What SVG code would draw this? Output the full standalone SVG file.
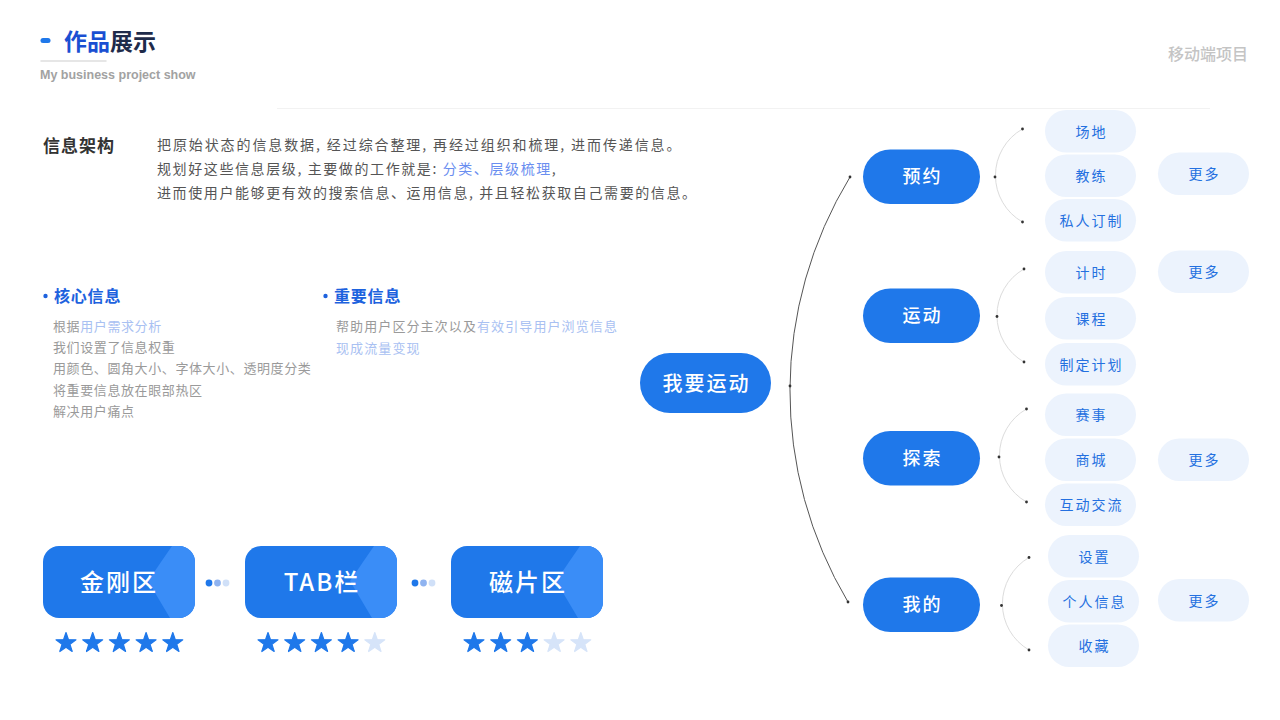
<svg xmlns="http://www.w3.org/2000/svg" width="1280" height="720" viewBox="0 0 1280 720">
<defs>
<style>
text{font-family:"Noto Sans CJK SC","Noto Sans",sans-serif;}
.para{font-size:14px;fill:#555555;letter-spacing:1.6px;}
.hl{fill:#6a8ef0;}
.item{font-size:13px;fill:#9a9a9a;letter-spacing:0.6px;}
.lb{fill:#a9c1f2;}
.head{font-size:16px;font-weight:700;fill:#1d62de;}
.card{fill:#1f78ea;}
.cardhi{fill:#3a8df7;}
.cardtxt{font-size:24px;font-weight:500;fill:#ffffff;letter-spacing:2px;text-anchor:middle;}
.l1{fill:#1f78ea;}
.l1t{font-size:18px;font-weight:500;fill:#ffffff;letter-spacing:2px;text-anchor:middle;}
.l2{fill:#ecf3fd;}
.l2t{font-size:14px;fill:#2470e0;letter-spacing:2px;text-anchor:middle;}
.arc{fill:none;stroke:#dcdcdc;stroke-width:1;}
.big{fill:none;stroke:#555555;stroke-width:1;}
.dot{fill:#333333;}
.on{fill:#1f78ea;stroke:#1f78ea;stroke-width:1.2;stroke-linejoin:round;}
.off{fill:#d6e4f9;stroke:#d6e4f9;stroke-width:1.2;stroke-linejoin:round;}
</style>
<path id="star" d="M0,-10.5 L2.47,-3.4 L9.99,-3.25 L3.99,1.3 L6.17,8.5 L0,4.2 L-6.17,8.5 L-3.99,1.3 L-9.99,-3.25 L-2.47,-3.4 Z"/>
<clipPath id="cardclip"><rect x="0" y="0" width="152" height="72" rx="16"/></clipPath>
</defs>
<rect x="0" y="0" width="1280" height="720" fill="#ffffff"/>

<!-- header -->
<g id="header">
<rect x="40.5" y="38" width="10" height="5" rx="2.5" fill="#1f78ea"/>
<text x="64" y="50" font-size="23" font-weight="700"><tspan fill="#1a4fd2">作品</tspan><tspan fill="#1e2b4a">展示</tspan></text>
<rect x="40.5" y="60" width="66" height="2" fill="#e6e6e6"/>
<text x="40" y="79" font-size="12.5" font-weight="700" fill="#a2a2a2" style="font-family:'Liberation Sans',Arial,sans-serif">My business project show</text>
<text x="1248" y="60" font-size="16" font-weight="500" fill="#c4c4c4" text-anchor="end">移动端项目</text>
<rect x="277" y="108" width="933" height="1" fill="#f2f2f2"/>
</g>

<!-- intro -->
<g id="intro">
<text x="43" y="152" font-size="17" font-weight="700" fill="#333333" letter-spacing="1">信息架构</text>
<text class="para" x="157" y="150" style="letter-spacing:1.9px">把原始状态的信息数据, 经过综合整理, 再经过组织和梳理, 进而传递信息。</text>
<text class="para" x="157" y="174">规划好这些信息层级, 主要做的工作就是: <tspan class="hl">分类、层级梳理</tspan>,</text>
<text class="para" x="157" y="198">进而使用户能够更有效的搜索信息、运用信息, 并且轻松获取自己需要的信息。</text>
</g>

<g id="core-info">
<circle cx="45.5" cy="296" r="2.2" fill="#1d62de"/>
<text class="head" x="54" y="302" letter-spacing="0.8">核心信息</text>
<text class="item" x="53" y="331">根据<tspan class="lb">用户需求分析</tspan></text>
<text class="item" x="53" y="352">我们设置了信息权重</text>
<text class="item" x="53" y="373">用颜色、圆角大小、字体大小、透明度分类</text>
<text class="item" x="53" y="395">将重要信息放在眼部热区</text>
<text class="item" x="53" y="416">解决用户痛点</text>
</g>

<g id="important-info">
<circle cx="325.5" cy="296" r="2.2" fill="#1d62de"/>
<text class="head" x="334" y="302" letter-spacing="0.8">重要信息</text>
<text class="item" x="336" y="331" style="letter-spacing:1.1px">帮助用户区分主次以及<tspan class="lb">有效引导用户浏览信息</tspan></text>
<text class="item" x="336" y="353" style="letter-spacing:1.1px"><tspan class="lb">现成流量变现</tspan></text>
</g>

<!-- cards -->
<g id="card-jingang" transform="translate(43,546)">
<rect class="card" x="0" y="0" width="152" height="72" rx="16"/>
<polygon class="cardhi" clip-path="url(#cardclip)" points="129,0 105,35 127,72 152,72 152,0"/>
<text class="cardtxt" x="76" y="45">金刚区</text>
</g>
<g id="card-tab" transform="translate(245,546)">
<rect class="card" x="0" y="0" width="152" height="72" rx="16"/>
<polygon class="cardhi" clip-path="url(#cardclip)" points="129,0 105,35 127,72 152,72 152,0"/>
<text class="cardtxt" x="77" y="45">TAB栏</text>
</g>
<g id="card-cipian" transform="translate(451,546)">
<rect class="card" x="0" y="0" width="152" height="72" rx="16"/>
<polygon class="cardhi" clip-path="url(#cardclip)" points="129,0 105,35 127,72 152,72 152,0"/>
<text class="cardtxt" x="77" y="45">磁片区</text>
</g>

<g id="card-dots">
<circle cx="209" cy="583" r="3.4" fill="#1f78ea"/>
<circle cx="217.5" cy="583" r="3.4" fill="#8fb3f0"/>
<circle cx="226" cy="583" r="3.4" fill="#d0e0f8"/>
<circle cx="415" cy="583" r="3.4" fill="#1f78ea"/>
<circle cx="423.5" cy="583" r="3.4" fill="#8fb3f0"/>
<circle cx="432" cy="583" r="3.4" fill="#d0e0f8"/>
</g>

<g id="stars">
<use href="#star" class="on" x="66" y="643"/>
<use href="#star" class="on" x="92.7" y="643"/>
<use href="#star" class="on" x="119.4" y="643"/>
<use href="#star" class="on" x="146.1" y="643"/>
<use href="#star" class="on" x="172.8" y="643"/>
<use href="#star" class="on" x="268" y="643"/>
<use href="#star" class="on" x="294.7" y="643"/>
<use href="#star" class="on" x="321.4" y="643"/>
<use href="#star" class="on" x="348.1" y="643"/>
<use href="#star" class="off" x="374.8" y="643"/>
<use href="#star" class="on" x="474" y="643"/>
<use href="#star" class="on" x="500.7" y="643"/>
<use href="#star" class="on" x="527.4" y="643"/>
<use href="#star" class="off" x="554.1" y="643"/>
<use href="#star" class="off" x="580.8" y="643"/>
</g>

<!-- connectors -->
<g id="connectors">
<path class="big" d="M850,177 A412,412 0 0,0 848,602"/>
<path class="arc" d="M1022.5,129 A53.5,53.5 0 0,0 1022.5,222"/>
<path class="arc" d="M1024,269 A53.5,53.5 0 0,0 1024,362"/>
<path class="arc" d="M1026.5,409 A53.5,53.5 0 0,0 1026.5,502"/>
<path class="arc" d="M1029,557.5 A53.5,53.5 0 0,0 1029,650"/>
<circle class="dot" cx="790" cy="386" r="1.4"/>
<circle class="dot" cx="850" cy="177" r="1.4"/>
<circle class="dot" cx="848" cy="602" r="1.4"/>
<circle class="dot" cx="995" cy="177" r="1.4"/>
<circle class="dot" cx="1022.5" cy="129" r="1.4"/>
<circle class="dot" cx="1022.5" cy="222" r="1.4"/>
<circle class="dot" cx="997" cy="316.5" r="1.4"/>
<circle class="dot" cx="1024" cy="269" r="1.4"/>
<circle class="dot" cx="1024" cy="362" r="1.4"/>
<circle class="dot" cx="999" cy="457" r="1.4"/>
<circle class="dot" cx="1026.5" cy="409" r="1.4"/>
<circle class="dot" cx="1026.5" cy="502" r="1.4"/>
<circle class="dot" cx="1001.5" cy="605.5" r="1.4"/>
<circle class="dot" cx="1029" cy="557.5" r="1.4"/>
<circle class="dot" cx="1029" cy="650" r="1.4"/>
</g>

<!-- center node -->
<g id="node-center">
<rect class="l1" x="640" y="353" width="131" height="60" rx="30"/>
<text x="706.5" y="391" font-size="20" font-weight="500" fill="#ffffff" letter-spacing="2" text-anchor="middle">我要运动</text>
</g>

<!-- level 1 -->
<g id="node-yuyue"><rect class="l1" x="863" y="149.5" width="117" height="54.5" rx="27.25"/><text class="l1t" x="922.5" y="183">预约</text></g>
<g id="node-yundong"><rect class="l1" x="863" y="288.5" width="117" height="54.5" rx="27.25"/><text class="l1t" x="922.5" y="322">运动</text></g>
<g id="node-tansuo"><rect class="l1" x="863" y="431" width="117" height="54.5" rx="27.25"/><text class="l1t" x="922.5" y="464.5">探索</text></g>
<g id="node-wode"><rect class="l1" x="863" y="577.5" width="117" height="54.5" rx="27.25"/><text class="l1t" x="922.5" y="611">我的</text></g>

<!-- level 2 -->
<g id="node-changdi"><rect class="l2" x="1045" y="110" width="91" height="42.5" rx="21.25"/><text class="l2t" x="1091.5" y="136.5">场地</text></g>
<g id="node-jiaolian"><rect class="l2" x="1045" y="154.5" width="91" height="42.5" rx="21.25"/><text class="l2t" x="1091.5" y="181">教练</text></g>
<g id="node-sirendingzhi"><rect class="l2" x="1045" y="199" width="91" height="42.5" rx="21.25"/><text class="l2t" x="1091.5" y="225.5">私人订制</text></g>
<g id="node-more1"><rect class="l2" x="1158" y="152.5" width="91" height="42.5" rx="21.25"/><text class="l2t" x="1204.5" y="179">更多</text></g>

<g id="node-jishi"><rect class="l2" x="1045" y="251" width="91" height="42.5" rx="21.25"/><text class="l2t" x="1091.5" y="277.5">计时</text></g>
<g id="node-kecheng"><rect class="l2" x="1045" y="297" width="91" height="42.5" rx="21.25"/><text class="l2t" x="1091.5" y="323.5">课程</text></g>
<g id="node-zhidingjihua"><rect class="l2" x="1045" y="343" width="91" height="42.5" rx="21.25"/><text class="l2t" x="1091.5" y="369.5">制定计划</text></g>
<g id="node-more2"><rect class="l2" x="1158" y="250.5" width="91" height="42.5" rx="21.25"/><text class="l2t" x="1204.5" y="277">更多</text></g>

<g id="node-saishi"><rect class="l2" x="1045" y="393.5" width="91" height="42.5" rx="21.25"/><text class="l2t" x="1091.5" y="420">赛事</text></g>
<g id="node-shangcheng"><rect class="l2" x="1045" y="438.5" width="91" height="42.5" rx="21.25"/><text class="l2t" x="1091.5" y="465">商城</text></g>
<g id="node-hudongjiaoliu"><rect class="l2" x="1045" y="483.5" width="91" height="42.5" rx="21.25"/><text class="l2t" x="1091.5" y="510">互动交流</text></g>
<g id="node-more3"><rect class="l2" x="1158" y="438.5" width="91" height="42.5" rx="21.25"/><text class="l2t" x="1204.5" y="465">更多</text></g>

<g id="node-shezhi"><rect class="l2" x="1048" y="535" width="91" height="42.5" rx="21.25"/><text class="l2t" x="1094.5" y="561.5">设置</text></g>
<g id="node-gerenxinxi"><rect class="l2" x="1048" y="580" width="91" height="42.5" rx="21.25"/><text class="l2t" x="1094.5" y="606.5">个人信息</text></g>
<g id="node-shoucang"><rect class="l2" x="1048" y="624.5" width="91" height="42.5" rx="21.25"/><text class="l2t" x="1094.5" y="651">收藏</text></g>
<g id="node-more4"><rect class="l2" x="1158" y="579" width="91" height="42.5" rx="21.25"/><text class="l2t" x="1204.5" y="605.5">更多</text></g>
</svg>
